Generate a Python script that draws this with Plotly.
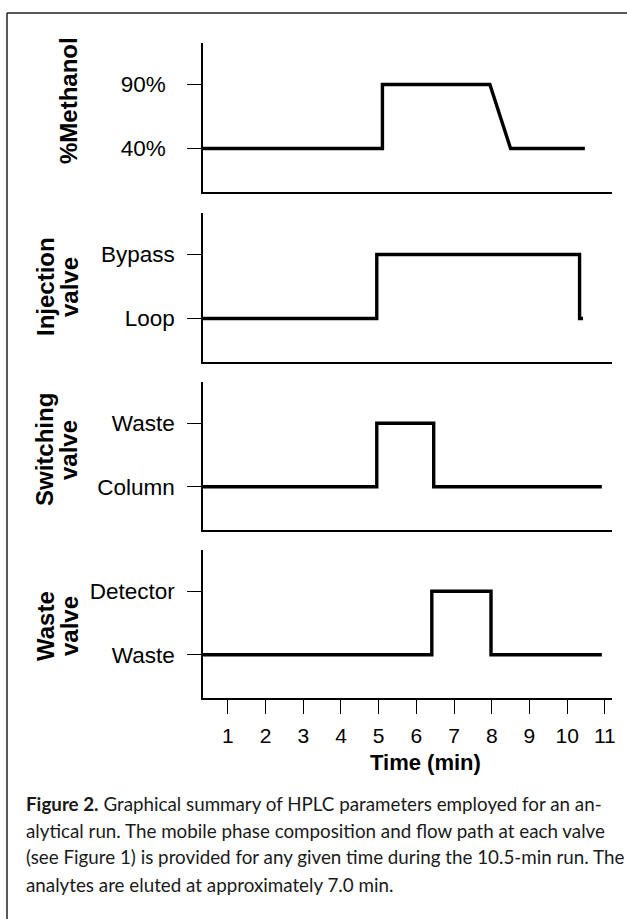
import plotly.graph_objects as go

# ---------------- data ----------------
time_ticks = [1, 2, 3, 4, 5, 6, 7, 8, 9, 10, 11]

methanol_t = [0, 5.1, 5.1, 7.95, 8.5, 10.47]
methanol_v = [40, 40, 90, 90, 40, 40]
methanol_ticks = [40, 90]
methanol_ticktext = ["40%", "90%"]

inj_states = ["Loop", "Bypass"]
inj_t = [0, 4.95, 10.33, 10.42]
inj_v = ["Loop", "Bypass", "Loop", "Loop"]

sw_states = ["Column", "Waste"]
sw_t = [0, 4.95, 6.46, 10.92]
sw_v = ["Column", "Waste", "Column", "Column"]

wv_states = ["Waste", "Detector"]
wv_t = [0, 6.41, 7.98, 10.92]
wv_v = ["Waste", "Detector", "Waste", "Waste"]

panel_titles = [["%Methanol"], ["Injection", "valve"], ["Switching", "valve"], ["Waste", "valve"]]
x_title = "Time (min)"
caption_lines = [
    "<b>Figure 2.</b> Graphical summary of HPLC parameters employed for an an-",
    "alytical run. The mobile phase composition and flow path at each valve",
    "(see Figure 1) is provided for any given time during the 10.5-min run. The",
    "analytes are eluted at approximately 7.0 min.",
]

# ---------------- layout geometry (pixels) ----------------
W, H = 627, 919
L, R, T, B = 203, 612, 43, 698
PW, PH = R - L, B - T


def px_x(p):
    return (p - L) / PW


def px_y(p):
    return (B - p) / PH


panels_px = [(43, 192), (213, 362), (382, 530), (550, 698)]
domains = [[px_y(b), px_y(t)] for (t, b) in panels_px]
title_centers = [101, 287, 450, 626]
label_standoffs = [17, 8, 8, 8]

FONT = "Liberation Sans, Arial, Helvetica, sans-serif"
CAP_FONT = "Lato, Noto Sans, sans-serif"
LW = 3.4

fig = go.Figure()

series = [
    (methanol_t, methanol_v, "linear"),
    (inj_t, [inj_states.index(s) for s in inj_v], "hv"),
    (sw_t, [sw_states.index(s) for s in sw_v], "hv"),
    (wv_t, [wv_states.index(s) for s in wv_v], "hv"),
]
for i, (tx, ty, shape) in enumerate(series):
    fig.add_trace(go.Scatter(
        x=tx, y=ty, mode="lines", line=dict(color="black", width=LW, shape=shape),
        xaxis="x" if i == 0 else f"x{i+1}", yaxis="y" if i == 0 else f"y{i+1}",
        showlegend=False, hoverinfo="skip"))

xrange = [0.34, 11.19]
lo, hi = -0.68, 1.65
yaxis_common = dict(showgrid=False, zeroline=False, showline=True, linecolor="black",
                    linewidth=1.5, ticks="outside", ticklen=14, tickwidth=1.3,
                    tickcolor="black", tickfont=dict(family=FONT, size=22.5, color="black"))

layout = dict(width=W, height=H, paper_bgcolor="white", plot_bgcolor="white",
              margin=dict(l=L, r=W - R, t=T, b=H - B), showlegend=False)

level_sets = [
    (methanol_ticks, methanol_ticktext, [40 + lo * 50, 40 + hi * 50]),
    ([0, 1], inj_states, [lo, hi]),
    ([0, 1], sw_states, [lo, hi]),
    ([0, 1], wv_states, [lo, hi]),
]
for i in range(4):
    xk = "xaxis" if i == 0 else f"xaxis{i+1}"
    yk = "yaxis" if i == 0 else f"yaxis{i+1}"
    yname = "y" if i == 0 else f"y{i+1}"
    xname = "x" if i == 0 else f"x{i+1}"
    xa = dict(domain=[0, 1], anchor=yname, range=xrange, showgrid=False, zeroline=False,
              showline=True, linecolor="black", linewidth=1.5, automargin=False)
    if i == 3:
        xa.update(tickvals=time_ticks, ticks="outside", ticklen=14, tickwidth=1.2,
                  tickcolor="black", tickfont=dict(family=FONT, size=21, color="black"),
                  ticklabelstandoff=4)
    else:
        xa.update(showticklabels=False, ticks="")
    layout[xk] = xa
    tv, tt, rng = level_sets[i]
    ya = dict(yaxis_common, domain=domains[i], anchor=xname, range=rng,
              tickvals=tv, ticktext=tt, ticklabelstandoff=label_standoffs[i],
              automargin=False)
    layout[yk] = ya

fig.update_layout(**layout)

annotations = []
for i, lines in enumerate(panel_titles):
    if len(lines) == 1:
        xs = [68]
    else:
        xs = [45, 69]
    for ln, xp in zip(lines, xs):
        annotations.append(dict(x=px_x(xp), y=px_y(title_centers[i]), xref="paper", yref="paper",
                                text=f"<b>{ln}</b>", showarrow=False, textangle=-90,
                                xanchor="center", yanchor="middle",
                                font=dict(family=FONT, size=24, color="black")))

annotations.append(dict(x=px_x(425), y=px_y(762), xref="paper", yref="paper",
                        text=f"<b>{x_title}</b>", showarrow=False, xanchor="center",
                        yanchor="middle", font=dict(family=FONT, size=22, color="black")))

for k, ln in enumerate(caption_lines):
    annotations.append(dict(x=px_x(24), y=px_y(803 + 27 * k), xref="paper", yref="paper",
                            text=ln, showarrow=False, xanchor="left", yanchor="middle",
                            font=dict(family=CAP_FONT, size=18.8, color="#1a1a1a")))
fig.update_layout(annotations=annotations)

# outer frame (left and top borders)
fig.add_shape(type="line", xref="paper", yref="paper", x0=px_x(7), x1=px_x(7),
              y0=px_y(13), y1=px_y(925), line=dict(color="#222", width=1.5))
fig.add_shape(type="line", xref="paper", yref="paper", x0=px_x(7), x1=px_x(630),
              y0=px_y(13), y1=px_y(13), line=dict(color="#222", width=1.5))

fig.write_html("out.html", config={"displayModeBar": False},
               post_script="document.body.style.margin='0';document.body.style.overflow='hidden';")
